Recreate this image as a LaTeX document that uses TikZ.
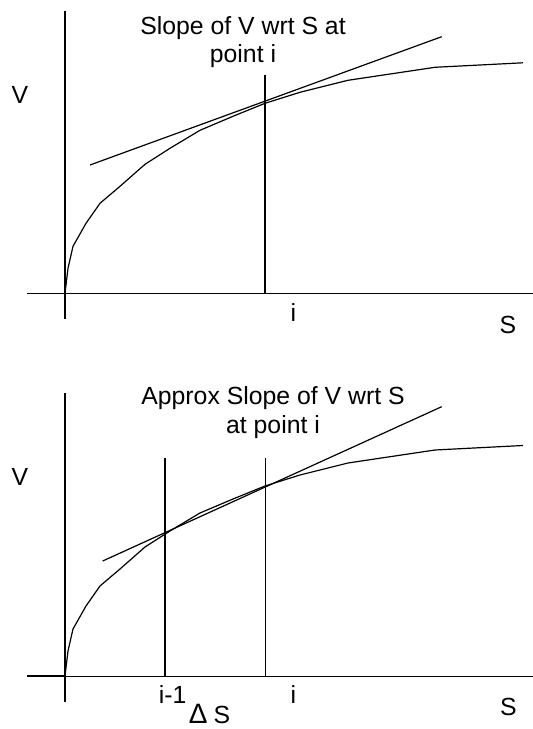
\documentclass[tikz,border=0pt]{standalone}
\usepackage{fontspec}
\setmainfont{Liberation Sans}
\begin{document}
\begin{tikzpicture}[x=1pt, y=1pt, line width=1.2pt,
        lbl/.style={inner sep=0pt, font=\fontsize{24.8}{28.5}\selectfont},
        curve/.style={line join=round}]
    \useasboundingbox (0,0) rectangle (533,729);
    % exact slope
    \begin{scope}[shift={(65,435.7)}]
        \coordinate (o1) at (0,0);
        \draw (-38,0) -- (o1);
        \draw[line width=0.9pt] (o1) -- (468,0);
        \draw (0,-25.7) -- (0,282.3);
        \draw[curve] (o1) -- (3,25) -- (8,47) -- (21,70) -- (35,90) -- (55,107) -- (80,129) -- (105,145)
            -- (135,163) -- (168,177) -- (200,190) -- (235,201) -- (283,213) -- (370,226) -- (458,230.5);
        \draw (25,128.3) -- (376.7,256.6);
        \coordinate (i1) at (200,0);
        \draw (i1) -- (200,218.3);
        \node[lbl] (title1) at (178,251) [align=center] {Slope of V wrt S at\\point i};
        \node[lbl] (v1) at (-45,198.3) {V};
        \node[lbl] (pi1) at (228.3,-19.7) {i};
        \node[lbl] (s1) at (443,-31.7) {S};
    \end{scope}
    % approximate slope
    \begin{scope}[shift={(65,53)}]
        \coordinate (o2) at (0,0);
        \draw (-38,0) -- (o2);
        \draw[line width=0.9pt] (o2) -- (468,0);
        \draw (0,-25.7) -- (0,282.7);
        \draw[curve] (o2) -- (3,25) -- (8,47) -- (21,70) -- (35,90) -- (55,107) -- (80,129) -- (105,145)
            -- (135,163) -- (168,177) -- (200,190) -- (235,201) -- (283,213) -- (370,226) -- (458,230.5);
        \draw (37.7,115) -- (376.7,269.3);
        \draw (100,0) -- (100,218.3);
        \draw (200.7,0) -- (200.7,218.3);
        \node[lbl] (title2) at (208,263.5) [align=center] {Approx Slope of V wrt S\\at point i};
        \node[lbl] (v2) at (-45,199.3) {V};
        \node[lbl] (pim) at (107.7,-19) {i-1};
        \node[lbl] (pi2) at (228.3,-19) {i};
        \node[lbl] (s2) at (443.3,-30.7) {S};
        \node[lbl, anchor=base] (ds) at (145,-47.5) {{\fontsize{28}{30}\selectfont ∆} S};
    \end{scope}
\end{tikzpicture}
\end{document}
